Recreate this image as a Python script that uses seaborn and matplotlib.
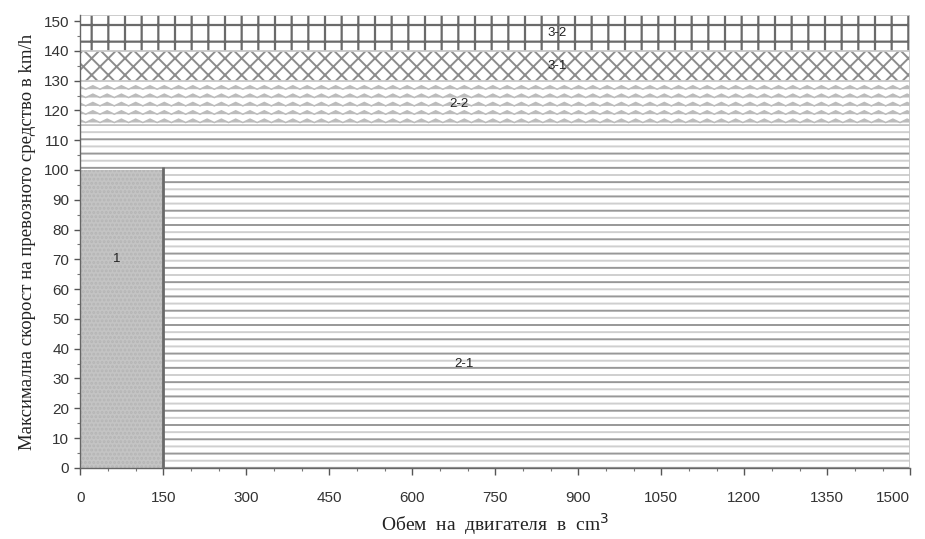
import warnings
import numpy as np
import matplotlib
matplotlib.use("Agg")
import matplotlib.pyplot as plt
import matplotlib.hatch as mhatch
from matplotlib.path import Path
from matplotlib.ticker import MultipleLocator
import seaborn as sns

warnings.filterwarnings("ignore")

# ==============================
# DATA
# ==============================
engine_cc = [0, 150, 150, 1500]          # x breakpoints (cm3)
zone1_top = [100, 100, 0, 0]             # upper edge of zone 1 (km/h)
zone_tops = [115, 130, 140, 152]         # upper edges of zones 2-1, 2-2, 3-1, 3-2
zone_names = ["1", "2-1", "2-2", "3-1", "3-2"]
label_x = [65, 694, 685, 862, 862]
label_y = [70, 35, 122, 135, 146]

x_ticks = list(range(0, 1501, 150))
y_ticks = list(range(0, 151, 10))


# ==============================
# CUSTOM HATCHES
# ==============================
class WaveHatch(mhatch.HatchPatternBase):
    # "w": zigzag rows
    def __init__(self, hatch, density):
        self.num_lines = int(hatch.count("w") * density)
        self.periods = 7
        self.pts = self.periods * 2 + 1
        self.num_vertices = self.num_lines * self.pts

    def set_vertices_and_codes(self, vertices, codes):
        steps, stepsize = np.linspace(0.0, 1.0, self.num_lines, False, retstep=True)
        steps += stepsize / 2.
        xs = np.linspace(0.0, 1.0, self.pts)
        zig = np.where(np.arange(self.pts) % 2 == 0, -1.0, 1.0) * 0.017
        for i, s in enumerate(steps):
            sl = slice(i * self.pts, (i + 1) * self.pts)
            vertices[sl, 0] = xs
            vertices[sl, 1] = s + zig
            codes[sl] = Path.LINETO
            codes[i * self.pts] = Path.MOVETO


class StripeHatch(mhatch.HatchPatternBase):
    # "h": 7 stripes per cell, "k": same but shifted half a step
    def __init__(self, hatch, density):
        self.shift = 0.5 if "k" in hatch else 0.0
        self.num_lines = 7 if ("h" in hatch or "k" in hatch) else 0
        self.num_vertices = self.num_lines * 2

    def set_vertices_and_codes(self, vertices, codes):
        steps, stepsize = np.linspace(0.0, 1.0, self.num_lines, False, retstep=True)
        steps += stepsize * (0.25 + self.shift)
        vertices[0::2, 0] = 0.0
        vertices[0::2, 1] = steps
        vertices[1::2, 0] = 1.0
        vertices[1::2, 1] = steps
        codes[0::2] = Path.MOVETO
        codes[1::2] = Path.LINETO


mhatch._hatch_types.extend([WaveHatch, StripeHatch])

# ==============================
# STYLE
# ==============================
sns.set_theme(style="ticks")
plt.rcParams["font.family"] = ["Liberation Sans", "DejaVu Sans"]
plt.rcParams["hatch.linewidth"] = 1.4

fig, ax = plt.subplots(figsize=(9.25, 5.39), dpi=100)
fig.subplots_adjust(left=0.087, right=0.984, bottom=0.132, top=0.972)

# ==============================
# ZONES
# ==============================
lower = np.zeros(len(engine_cc))
lower_edges = [np.array(zone1_top, dtype=float)] + [np.full(4, t, dtype=float) for t in zone_tops[:-1]]
upper_edges = [np.full(4, t, dtype=float) for t in zone_tops]

# zone 1
ax.fill_between(engine_cc, lower, zone1_top, facecolor="#c4c4c4",
                edgecolor="#b5b5b5", hatch="....", linewidth=0, zorder=1)

# zone 2-1: alternating light / dark stripes
ax.fill_between(engine_cc, lower_edges[0], upper_edges[0], facecolor="white",
                edgecolor="#cfcfcf", hatch="k", linewidth=0, zorder=1)
ax.fill_between(engine_cc, lower_edges[0], upper_edges[0], facecolor="none",
                edgecolor="#989898", hatch="h", linewidth=0, zorder=1)

styles = [
    dict(hatch="ww", edgecolor="#bcbcbc"),
    dict(hatch="xx", edgecolor="#8c8c8c"),
    dict(hatch="+", edgecolor="#6a6a6a"),
]
hatch_widths = [1.1, 1.4, 1.6]
for lo, hi, st, hw in zip(lower_edges[1:], upper_edges[1:], styles, hatch_widths):
    poly = ax.fill_between(engine_cc, lo, hi, facecolor="white", linewidth=0, zorder=1, **st)
    if hasattr(poly, "set_hatch_linewidth"):
        poly.set_hatch_linewidth(hw)

for hi in upper_edges:
    ax.plot(engine_cc, hi, color="#c8c8c8", lw=1.3, zorder=2)

ax.plot([engine_cc[-1], engine_cc[-1]], [0, zone_tops[-1]], color="#c8c8c8", lw=1.3, zorder=2)
ax.vlines(engine_cc[1], 0, zone1_top[0] + 1, color="#6a6a6a", lw=2, zorder=3)

for name, lx, ly in zip(zone_names, label_x, label_y):
    ax.text(lx, ly, name, fontsize=9.5, color="#222222", ha="center", va="center", zorder=4)

# ==============================
# AXES
# ==============================
ax.set_xlim(0, 1500)
ax.set_ylim(0, 152)
ax.set_xticks(x_ticks)
ax.set_yticks(y_ticks)
ax.xaxis.set_minor_locator(MultipleLocator(50))
ax.yaxis.set_minor_locator(MultipleLocator(5))
ax.tick_params(axis="x", which="major", length=5, width=1, color="#555555",
               labelsize=11, labelcolor="#333333", pad=12)
ax.tick_params(axis="y", which="major", length=4, width=1, color="#555555",
               labelsize=11, labelcolor="#333333", pad=4)
ax.tick_params(which="minor", length=2.5, width=0.8, color="#777777")
ax.get_xticklabels()[-1].set_horizontalalignment("right")
sns.despine(ax=ax)
for side in ["left", "bottom"]:
    ax.spines[side].set_color("#666666")
    ax.spines[side].set_linewidth(1)

ax.set_xlabel("Обем  на  двигателя  в  cm$^3$", family=["Liberation Serif"],
              fontsize=14, labelpad=4, color="#222222")
ax.set_ylabel("Максимална скорост на превозното средство в km/h",
              family=["Liberation Serif"], fontsize=13.5, labelpad=6, color="#222222")

plt.savefig("out.png", dpi=100)
